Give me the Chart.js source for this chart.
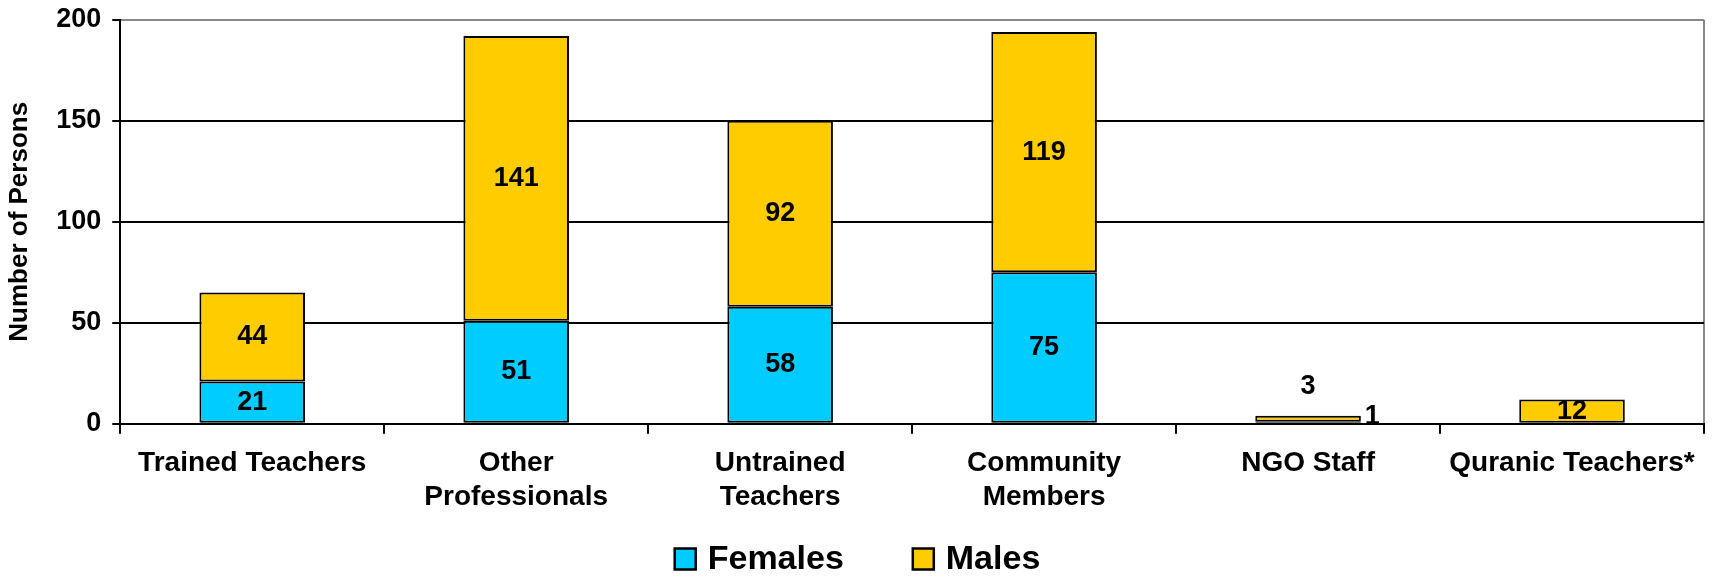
<!DOCTYPE html>
<html>
<head>
<meta charset="utf-8">
<script src="https://cdn.jsdelivr.net/npm/chart.js@4"></script>
<style>
  body { margin: 0; background: #fff; }
  #wrap { width: 1715px; height: 576px; }
</style>
</head>
<body>
<div id="wrap"><canvas id="personsChart"></canvas></div>
<script>
var categories = ["Trained Teachers", ["Other", "Professionals"], ["Untrained", "Teachers"], ["Community", "Members"], "NGO Staff", "Quranic Teachers*"];
var females = [21, 51, 58, 75, 1, 0];
var males = [44, 141, 92, 119, 3, 12];
var yTicks = [0, 50, 100, 150, 200];

var FONT = "'Liberation Sans', Arial, sans-serif";

// numbers on each bar segment (tiny segments get their label moved outside)
var segmentLabels = {
    id: "segmentLabels",
    afterDatasetsDraw: function(chart) {
        var ctx = chart.ctx;
        ctx.save();
        ctx.font = "bold 27px " + FONT;
        ctx.fillStyle = "#000";
        ctx.textBaseline = "middle";
        chart.data.datasets.forEach(function(ds, di) {
            var meta = chart.getDatasetMeta(di);
            meta.data.forEach(function(bar, i) {
                var v = ds.data[i];
                if (!v) return;
                var h = Math.abs(bar.base - bar.y);
                var x = bar.x, y = (bar.y + bar.base) / 2;
                ctx.textAlign = "center";
                if (h < 16) {
                    if (di === 0) {
                        ctx.textAlign = "left";
                        x = bar.x + bar.width / 2 + 4;
                        y = bar.base - 6;
                    } else {
                        y = bar.y - 29;
                    }
                }
                ctx.fillText(String(v), x, y);
            });
        });
        ctx.restore();
    }
};

// bottom legend, drawn by hand so the item gap doesn't eat vertical space
var bottomLegend = {
    id: "bottomLegend",
    afterDraw: function(chart) {
        var ctx = chart.ctx;
        var box = 21, gapText = 12, gapItem = 69;
        ctx.save();
        ctx.font = "bold 34px " + FONT;
        var items = chart.data.datasets.map(function(ds) {
            return { text: ds.label, color: ds.backgroundColor, w: ctx.measureText(ds.label).width };
        });
        var total = 0;
        items.forEach(function(it, i) {
            total += box + gapText + it.w + (i > 0 ? gapItem : 0);
        });
        var x = (chart.width - total) / 2;
        var y = chart.height - 17;
        ctx.textBaseline = "middle";
        ctx.textAlign = "left";
        items.forEach(function(it) {
            ctx.fillStyle = it.color;
            ctx.fillRect(x, y - box / 2, box, box);
            ctx.lineWidth = 2.5;
            ctx.strokeStyle = "#000";
            ctx.strokeRect(x, y - box / 2, box, box);
            ctx.fillStyle = "#000";
            ctx.fillText(it.text, x + box + gapText, y + 1);
            x += box + gapText + it.w + gapItem;
        });
        ctx.restore();
    }
};

var ctx = document.getElementById("personsChart");
var myChart = new Chart(ctx, {
    type: "bar",
    data: {
        labels: categories,
        datasets: [{
            label: "Females",
            data: females,
            backgroundColor: "#00CCFF",
            borderColor: "#000",
            borderWidth: 2,
            borderSkipped: false,
            barPercentage: 0.4,
            categoryPercentage: 1.0
        }, {
            label: "Males",
            data: males,
            backgroundColor: "#FFCC00",
            borderColor: "#000",
            borderWidth: 2,
            borderSkipped: false,
            barPercentage: 0.4,
            categoryPercentage: 1.0
        }]
    },
    options: {
        responsive: true,
        maintainAspectRatio: false,
        animation: false,
        layout: { padding: { top: 0, right: 11, left: 0, bottom: 49 } },
        plugins: {
            legend: { display: false },
            tooltip: { enabled: false }
        },
        scales: {
            x: {
                stacked: true,
                grid: {
                    offset: true,
                    drawOnChartArea: true,
                    color: function(c) { return c.type === "scale" ? "#888" : "rgba(0,0,0,0)"; },
                    lineWidth: 2,
                    tickColor: "#000",
                    tickLength: 10
                },
                border: { color: "#000", width: 2 },
                ticks: {
                    color: "#000",
                    font: { family: FONT, size: 28, weight: "bold", lineHeight: 1.2 },
                    maxRotation: 0,
                    autoSkip: false,
                    padding: 13
                }
            },
            y: {
                stacked: true,
                min: 0,
                max: 200,
                afterBuildTicks: function(axis) {
                    axis.ticks = yTicks.map(function(v) { return { value: v }; });
                },
                grid: {
                    color: function(c) { return c.tick && c.tick.value === 200 ? "#888" : "#000"; },
                    lineWidth: 2,
                    tickColor: "#000",
                    tickLength: 8
                },
                border: { color: "#000", width: 2 },
                title: {
                    display: true,
                    text: "Number of Persons",
                    color: "#000",
                    font: { family: FONT, size: 26, weight: "bold" },
                    padding: { top: 4, bottom: 10 }
                },
                ticks: {
                    color: "#000",
                    font: { family: FONT, size: 27, weight: "bold", lineHeight: 0.65 },
                    padding: 11
                }
            }
        }
    },
    plugins: [segmentLabels, bottomLegend]
});
</script>
</body>
</html>
